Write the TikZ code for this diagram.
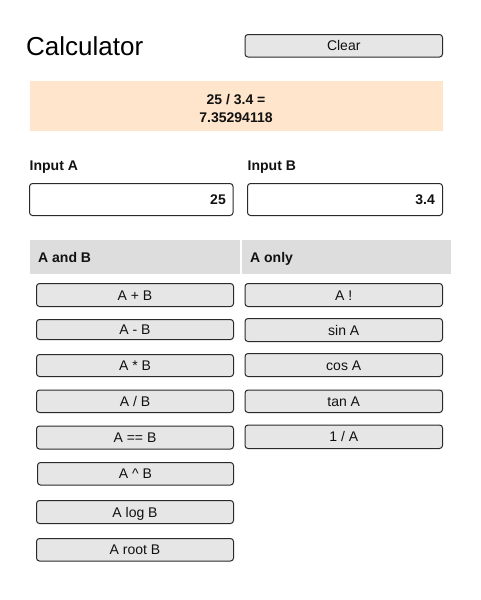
\documentclass[tikz,border=0pt]{standalone}
\usepackage{fontspec}
\setmainfont{Liberation Sans}
\definecolor{btnfill}{HTML}{E6E6E6}
\definecolor{btnline}{HTML}{2A2A2A}
\definecolor{peach}{HTML}{FFE5CC}
\definecolor{headfill}{HTML}{DDDDDD}
\definecolor{txt}{HTML}{111111}
\tikzset{
  btnbox/.style={draw=btnline, fill=btnfill, rounded corners=3pt, line width=1pt, inner sep=0pt, text=txt, font=\fontsize{14}{16}\selectfont, text height=10.2pt, text depth=0pt},
  inbox/.style={draw=btnline, fill=white, rounded corners=3pt, line width=1pt, inner sep=0pt},
  headcell/.style={fill=headfill, inner sep=0pt},
  lbl/.style={font=\fontsize{14}{16}\selectfont\bfseries, text=txt, inner sep=0pt},
}
% \mkbox{style}{name}{x1}{y1}{x2}{y2}{text}
\newcommand{\mkbox}[7]{%
  \pgfmathsetmacro{\bw}{#5-#3}\pgfmathsetmacro{\bh}{#6-#4}%
  \node[#1, minimum width=\bw pt, minimum height=\bh pt] (#2) at ({(#3+#5)/2},{(#4+#6)/2}) {#7};}
\begin{document}
\begin{tikzpicture}[x=1pt,y=-1pt]
\useasboundingbox (0,0) rectangle (480,600);
% title
\node[anchor=base west, inner sep=0pt, font=\fontsize{26}{30}\selectfont] (title) at (26,55.5) {Calculator};
\mkbox{btnbox}{clear}{245}{34.5}{442.5}{57}{Clear}
% result
\mkbox{fill=peach, inner sep=0pt}{result}{29.5}{81}{443}{131}{}
\node[lbl, anchor=base] (res1) at (236,104.8) {25 / 3.4 =};
\node[lbl, anchor=base] (res2) at (236,122.8) {7.35294118};
% input labels
\node[lbl, anchor=base west] (labA) at (29.5,170) {Input A};
\node[lbl, anchor=base west] (labB) at (247.5,170) {Input B};
\mkbox{inbox}{inA}{29.5}{183.5}{233}{215.5}{}
\mkbox{inbox}{inB}{247.5}{183.5}{442.5}{215.5}{}
\node[lbl, anchor=base east] (valA) at (226,204.5) {25};
\node[lbl, anchor=base east] (valB) at (435,204.5) {3.4};
% headers
\mkbox{headcell}{hAB}{30}{240}{240}{274}{}
\mkbox{headcell}{hA}{242}{240}{451}{274}{}
\node[lbl, anchor=base west] (tAB) at (38,262) {A and B};
\node[lbl, anchor=base west] (tA) at (250,262) {A only};
% left buttons
\mkbox{btnbox}{add}{36.5}{283.5}{233.5}{306.5}{A + B}
\mkbox{btnbox}{sub}{36.5}{319.5}{233.5}{339.5}{A - B}
\mkbox{btnbox}{mul}{36.5}{354.5}{233.5}{376.5}{A * B}
\mkbox{btnbox}{div}{36.5}{390}{233.5}{412.5}{A / B}
\mkbox{btnbox}{eq}{36.5}{426}{233.5}{449}{A == B}
\mkbox{btnbox}{pow}{37.5}{462.5}{233.5}{485}{A \^{} B}
\mkbox{btnbox}{log}{36.5}{500.5}{233.5}{523.5}{A log B}
\mkbox{btnbox}{root}{36.5}{538.5}{233.5}{561}{A root B}
% right buttons
\mkbox{btnbox}{fact}{245}{283.5}{442.5}{306.5}{A !}
\mkbox{btnbox}{sin}{245}{318.5}{442.5}{341.5}{sin A}
\mkbox{btnbox}{cos}{245}{353.5}{442.5}{376.5}{cos A}
\mkbox{btnbox}{tan}{245}{390}{442.5}{412.5}{tan A}
\mkbox{btnbox}{inv}{245}{425}{442.5}{448.5}{1 / A}
\end{tikzpicture}
\end{document}
